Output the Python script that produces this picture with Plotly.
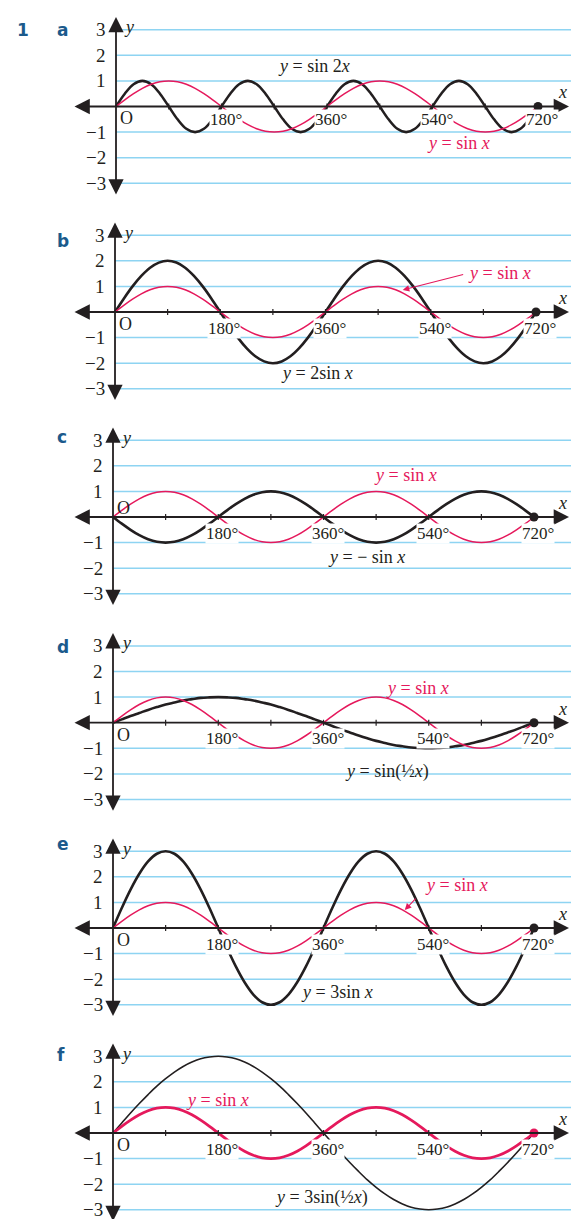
import plotly.graph_objects as go

W, H = 571, 1219

# sample angles (degrees) and curve values
deg = list(range(0, 721, 15))

sin_x = [0, 0.26, 0.5, 0.71, 0.87, 0.97, 1, 0.97, 0.87, 0.71, 0.5, 0.26,
         0, -0.26, -0.5, -0.71, -0.87, -0.97, -1, -0.97, -0.87, -0.71, -0.5, -0.26,
         0, 0.26, 0.5, 0.71, 0.87, 0.97, 1, 0.97, 0.87, 0.71, 0.5, 0.26,
         0, -0.26, -0.5, -0.71, -0.87, -0.97, -1, -0.97, -0.87, -0.71, -0.5, -0.26, 0]

sin_2x = [0, 0.5, 0.87, 1, 0.87, 0.5, 0, -0.5, -0.87, -1, -0.87, -0.5,
          0, 0.5, 0.87, 1, 0.87, 0.5, 0, -0.5, -0.87, -1, -0.87, -0.5,
          0, 0.5, 0.87, 1, 0.87, 0.5, 0, -0.5, -0.87, -1, -0.87, -0.5,
          0, 0.5, 0.87, 1, 0.87, 0.5, 0, -0.5, -0.87, -1, -0.87, -0.5, 0]

two_sin_x = [0, 0.52, 1, 1.41, 1.73, 1.93, 2, 1.93, 1.73, 1.41, 1, 0.52,
             0, -0.52, -1, -1.41, -1.73, -1.93, -2, -1.93, -1.73, -1.41, -1, -0.52,
             0, 0.52, 1, 1.41, 1.73, 1.93, 2, 1.93, 1.73, 1.41, 1, 0.52,
             0, -0.52, -1, -1.41, -1.73, -1.93, -2, -1.93, -1.73, -1.41, -1, -0.52, 0]

neg_sin_x = [0, -0.26, -0.5, -0.71, -0.87, -0.97, -1, -0.97, -0.87, -0.71, -0.5, -0.26,
             0, 0.26, 0.5, 0.71, 0.87, 0.97, 1, 0.97, 0.87, 0.71, 0.5, 0.26,
             0, -0.26, -0.5, -0.71, -0.87, -0.97, -1, -0.97, -0.87, -0.71, -0.5, -0.26,
             0, 0.26, 0.5, 0.71, 0.87, 0.97, 1, 0.97, 0.87, 0.71, 0.5, 0.26, 0]

sin_half_x = [0, 0.13, 0.26, 0.38, 0.5, 0.61, 0.71, 0.79, 0.87, 0.92, 0.97, 0.99,
              1, 0.99, 0.97, 0.92, 0.87, 0.79, 0.71, 0.61, 0.5, 0.38, 0.26, 0.13,
              0, -0.13, -0.26, -0.38, -0.5, -0.61, -0.71, -0.79, -0.87, -0.92, -0.97, -0.99,
              -1, -0.99, -0.97, -0.92, -0.87, -0.79, -0.71, -0.61, -0.5, -0.38, -0.26, -0.13, 0]

three_sin_x = [0, 0.78, 1.5, 2.12, 2.6, 2.9, 3, 2.9, 2.6, 2.12, 1.5, 0.78,
               0, -0.78, -1.5, -2.12, -2.6, -2.9, -3, -2.9, -2.6, -2.12, -1.5, -0.78,
               0, 0.78, 1.5, 2.12, 2.6, 2.9, 3, 2.9, 2.6, 2.12, 1.5, 0.78,
               0, -0.78, -1.5, -2.12, -2.6, -2.9, -3, -2.9, -2.6, -2.12, -1.5, -0.78, 0]

three_sin_half_x = [0, 0.39, 0.78, 1.15, 1.5, 1.83, 2.12, 2.38, 2.6, 2.77, 2.9, 2.97,
                    3, 2.97, 2.9, 2.77, 2.6, 2.38, 2.12, 1.83, 1.5, 1.15, 0.78, 0.39,
                    0, -0.39, -0.78, -1.15, -1.5, -1.83, -2.12, -2.38, -2.6, -2.77, -2.9, -2.97,
                    -3, -2.97, -2.9, -2.77, -2.6, -2.38, -2.12, -1.83, -1.5, -1.15, -0.78, -0.39, 0]

end_x = [720]
end_y = [0]

panel_letters = ["a", "b", "c", "d", "e", "f"]
black_curves = [sin_2x, two_sin_x, neg_sin_x, sin_half_x, three_sin_x, three_sin_half_x]
black_names = ["<i>y</i> = sin 2<i>x</i>", "<i>y</i> = 2sin <i>x</i>", "<i>y</i> = − sin <i>x</i>",
               "<i>y</i> = sin(½<i>x</i>)", "<i>y</i> = 3sin <i>x</i>", "<i>y</i> = 3sin(½<i>x</i>)"]
red_name = "<i>y</i> = sin <i>x</i>"
y_ticks = [3, 2, 1, -1, -2, -3]
x_ticks = [180, 360, 540, 720]

# label positions (degrees, y units)
black_label_pos = [(338, 1.58), (345, -2.38), (433, -1.56), (468, -1.9), (383, -2.5), (357, -2.5)]
red_label_pos = [(584, -1.43), (658, 1.52), (501, 1.64), (520, 1.36), (588, 1.68), (179, 1.29)]
red_arrows = {1: ((598, 1.48), (492, 0.86)), 4: ((520, 1.21), (499, 0.70))}

# page geometry in pixels
origin_px = [116, 115, 113, 113, 113, 113]
end_px = [538, 536, 534, 534, 534, 534]
axis_py = [106.5, 312, 517, 722.7, 928, 1133]
label_py = [18, 229, 437, 647, 856, 1067]
unit_py = 25.6

RED = "#e5195c"
INK = "#231f20"
GRID = "#8ed4f2"
SERIF = "Liberation Serif"
HEAD = dict(family="DejaVu Sans", size=17, color="#1b5a8c")

fig = go.Figure()
shapes, annots = [], []

for i in range(6):
    n = i + 1
    xr, yr = f"x{n}", f"y{n}"
    sx = (end_px[i] - origin_px[i]) / 720
    x_lo, x_hi = -origin_px[i] / sx, (W - origin_px[i]) / sx
    top = max(0, axis_py[i] - 4 * unit_py)
    bot = min(H, axis_py[i] + 4 * unit_py)
    y_lo, y_hi = (axis_py[i] - bot) / unit_py, (axis_py[i] - top) / unit_py

    fig.layout[f"xaxis{n}"] = dict(domain=[0, 1], range=[x_lo, x_hi], visible=False,
                                   anchor=yr, fixedrange=True)
    fig.layout[f"yaxis{n}"] = dict(domain=[1 - bot / H, 1 - top / H], range=[y_lo, y_hi],
                                   visible=False, anchor=xr, fixedrange=True)

    f_panel = i == 5
    fig.add_trace(go.Scatter(x=deg, y=black_curves[i], mode="lines", line_shape="spline",
                             line=dict(color=INK, width=1.6 if f_panel else 2.6),
                             xaxis=xr, yaxis=yr, showlegend=False, hoverinfo="skip"))
    fig.add_trace(go.Scatter(x=deg, y=sin_x, mode="lines", line_shape="spline",
                             line=dict(color=RED, width=2.8 if f_panel else 1.5),
                             xaxis=xr, yaxis=yr, showlegend=False, hoverinfo="skip"))
    fig.add_trace(go.Scatter(x=end_x, y=end_y, mode="markers",
                             marker=dict(color=RED if f_panel else INK, size=9),
                             xaxis=xr, yaxis=yr, showlegend=False, hoverinfo="skip"))

    # horizontal ruled lines
    for v in y_ticks:
        shapes.append(dict(type="line", xref=xr, yref=yr, x0=0, x1=x_hi, y0=v, y1=v,
                           line=dict(color=GRID, width=1.5), layer="below"))
    # small ticks on the x axis
    for t in range(90, 720, 90):
        shapes.append(dict(type="line", xref=xr, yref=yr, x0=t, x1=t, y0=-0.12, y1=0.12,
                           line=dict(color=INK, width=1.2)))

    # axes with arrow heads
    px = 1 / sx
    annots.append(dict(xref=xr, yref=yr, axref=xr, ayref=yr, x=(569 - origin_px[i]) * px, y=0,
                       ax=(73 - origin_px[i]) * px, ay=0, text="", showarrow=True,
                       arrowhead=2, arrowside="end+start", arrowsize=1.7, arrowwidth=1.8,
                       arrowcolor=INK))
    annots.append(dict(xref=xr, yref=yr, axref=xr, ayref=yr, x=0, y=3.5, ax=0, ay=-3.5,
                       text="", showarrow=True, arrowhead=2, arrowside="end+start",
                       arrowsize=1.7, arrowwidth=1.8, arrowcolor=INK))

    # axis letters
    annots.append(dict(xref=xr, yref=yr, x=13 * px, y=3.1, text="<i>y</i>", showarrow=False,
                       font=dict(family=SERIF, size=18, color=INK)))
    annots.append(dict(xref=xr, yref=yr, x=(562 - origin_px[i]) * px, y=0.55, text="<i>x</i>",
                       showarrow=False, font=dict(family=SERIF, size=18, color=INK)))

    # y tick numbers
    for v in y_ticks:
        lab = str(v) if v > 0 else "−" + str(-v)
        annots.append(dict(xref=xr, yref=yr, x=-8 * px, y=v, text=lab,
                           xanchor="right", showarrow=False,
                           font=dict(family=SERIF, size=19, color=INK)))
    # x tick numbers
    drop = 13 if i == 0 else 16
    for t in x_ticks:
        annots.append(dict(xref=xr, yref=yr, x=t + 4 * px, y=-drop / unit_py, text=f"{t}°",
                           showarrow=False, bgcolor="white", borderpad=0,
                           font=dict(family=SERIF, size=17, color=INK)))
    o_y = 0.36 if i == 2 else -12 / unit_py
    annots.append(dict(xref=xr, yref=yr, x=10 * px, y=o_y, text="O", showarrow=False,
                       font=dict(family=SERIF, size=18, color=INK)))

    # curve names
    bx, by = black_label_pos[i]
    annots.append(dict(xref=xr, yref=yr, x=bx, y=by, text=black_names[i], showarrow=False,
                       font=dict(family=SERIF, size=18, color=INK)))
    rx, ry = red_label_pos[i]
    annots.append(dict(xref=xr, yref=yr, x=rx, y=ry, text=red_name, showarrow=False,
                       font=dict(family=SERIF, size=18, color=RED)))
    if i in red_arrows:
        (tx, ty), (hx, hy) = red_arrows[i]
        annots.append(dict(xref=xr, yref=yr, axref=xr, ayref=yr, x=hx, y=hy, ax=tx, ay=ty,
                           text="", showarrow=True, arrowhead=2, arrowsize=1.2,
                           arrowwidth=1.1, arrowcolor=RED))

    # panel letter
    annots.append(dict(xref="paper", yref="paper", x=55 / W, y=1 - label_py[i] / H,
                       text=f"<b>{panel_letters[i]}</b>", showarrow=False, font=HEAD))

annots.append(dict(xref="paper", yref="paper", x=15 / W, y=1 - 18 / H, text="<b>1</b>",
                   showarrow=False, font=HEAD))

fig.update_layout(width=W, height=H, margin=dict(l=0, r=0, t=0, b=0),
                  paper_bgcolor="white", plot_bgcolor="rgba(0,0,0,0)",
                  shapes=shapes, annotations=annots, showlegend=False)

# page body has a default margin; drop it so the chart fills the window exactly
fig.write_html("out.html", config={"displayModeBar": False},
               post_script="document.body.style.margin='0';document.body.style.overflow='hidden';")
